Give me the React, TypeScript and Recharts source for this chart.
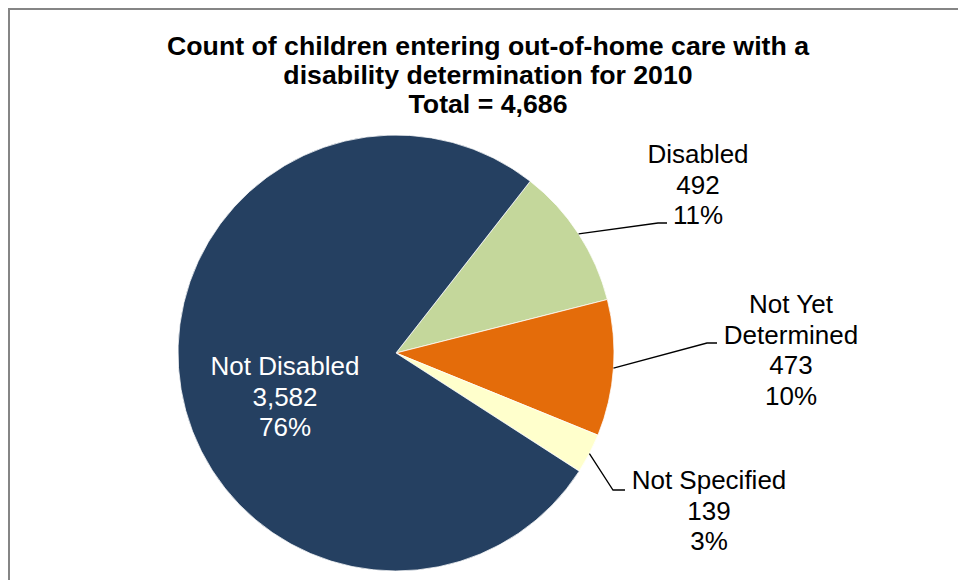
import { Cell, Pie, PieChart } from "recharts";

// values
const categories = ["Disabled", "Not Yet Determined", "Not Specified", "Not Disabled"];
const counts = [492, 473, 139, 3582];
const percentLabels = ["11%", "10%", "3%", "76%"];
const titleLines = [
  "Count of children entering out-of-home care with a",
  "disability determination for 2010",
  "Total = 4,686",
];

const COLORS = ["#C4D79B", "#E46C0A", "#FFFFCC", "#254061"];
const FONT = '"Liberation Sans", Arial, sans-serif';

const data = categories.map((name, i) => ({ name, value: counts[i] }));

// where each label sits, relative to the pie centre
const LABEL_LAYOUT: Record<
  string,
  { lines: string[]; x: number; y: number; elbow?: [number, number]; end?: [number, number]; fill?: string }
> = {
  Disabled: { lines: ["Disabled"], x: 302, y: -190, elbow: [262, -130], end: [271, -130] },
  "Not Yet Determined": { lines: ["Not Yet", "Determined"], x: 395, y: -40, elbow: [311, -10], end: [321, -10] },
  "Not Specified": { lines: ["Not Specified"], x: 313, y: 136, elbow: [217, 137], end: [229, 137] },
  "Not Disabled": { lines: ["Not Disabled"], x: -111, y: 22, fill: "#ffffff" },
};

const RAD = Math.PI / 180;

function renderLabel(props: any) {
  const { cx, cy, midAngle, outerRadius, name, value, index } = props;
  const layout = LABEL_LAYOUT[name];
  if (!layout) return null;
  const sx = cx + outerRadius * Math.cos(-midAngle * RAD);
  const sy = cy + outerRadius * Math.sin(-midAngle * RAD);
  const lines = [...layout.lines, Number(value).toLocaleString("en-US"), percentLabels[index]];
  const tx = cx + layout.x;
  return (
    <g>
      {layout.elbow && layout.end && (
        <polyline
          points={`${sx},${sy} ${cx + layout.elbow[0]},${cy + layout.elbow[1]} ${cx + layout.end[0]},${cy + layout.end[1]}`}
          fill="none"
          stroke="#000"
          strokeWidth={1.3}
        />
      )}
      <text x={tx} y={cy + layout.y} textAnchor="middle" fontSize={26} fontFamily={FONT} fill={layout.fill ?? "#000"}>
        {lines.map((l, i) => (
          <tspan key={i} x={tx} dy={i === 0 ? 0 : 30.5}>
            {l}
          </tspan>
        ))}
      </text>
    </g>
  );
}

export default function App() {
  return (
    <div style={{ position: "relative", width: 958, height: 580, overflow: "hidden", background: "#fff" }}>
      <style>{`body{margin:0;overflow:hidden}`}</style>
      <div
        style={{
          position: "absolute",
          left: 8,
          top: 8,
          width: 960,
          height: 600,
          borderTop: "2px solid #858585",
          borderLeft: "2px solid #858585",
          boxSizing: "border-box",
        }}
      />
      <div
        style={{
          position: "absolute",
          left: 8,
          top: 32,
          width: 960,
          textAlign: "center",
          fontFamily: FONT,
          fontWeight: "bold",
          fontSize: 26.7,
          lineHeight: "29px",
          color: "#000",
        }}
      >
        {titleLines.map((t) => (
          <div key={t}>{t}</div>
        ))}
      </div>
      <div style={{ position: "absolute", left: 0, top: 0 }}>
        <PieChart width={958} height={580} margin={{ top: 0, right: 0, bottom: 0, left: 0 }}>
          <Pie
            data={data}
            dataKey="value"
            nameKey="name"
            cx={396}
            cy={353}
            outerRadius={218}
            startAngle={52}
            endAngle={-308}
            label={renderLabel}
            labelLine={false}
            isAnimationActive={false}
          >
            {data.map((d, i) => (
              <Cell key={d.name} fill={COLORS[i]} stroke="#ffffff" strokeWidth={0.75} />
            ))}
          </Pie>
        </PieChart>
      </div>
    </div>
  );
}
